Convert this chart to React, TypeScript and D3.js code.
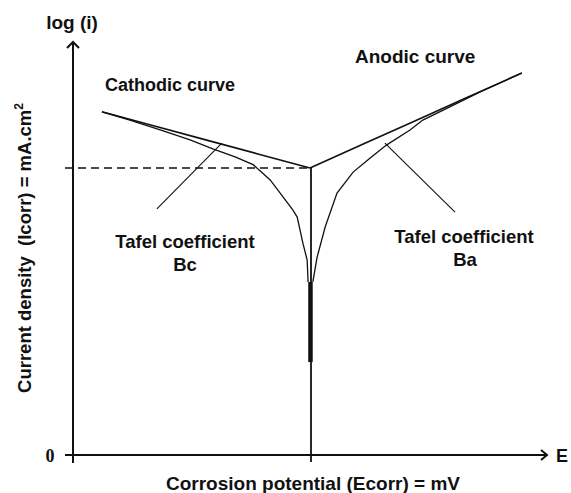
import React from "react";
import * as d3 from "d3";

// Potential E (mV, relative to Ecorr) and log(i) values
const E_CORR = 0;
const LOG_I_CORR = 6.95;

const cathodicE = [-439, -380, -316, -253, -205, -158, -120, -84, -57, -36, -27, -15, -6, -4];
const cathodicLogI = [8.31, 8.11, 7.87, 7.63, 7.41, 7.22, 7.03, 6.66, 6.25, 5.93, 5.76, 5.13, 4.72, 4.19];

const anodicE = [6, 15, 32, 57, 91, 127, 162, 211, 238, 295, 359, 447];
const anodicLogI = [4.19, 4.79, 5.52, 6.34, 6.85, 7.19, 7.51, 7.87, 8.11, 8.43, 8.79, 9.25];

const cathodicTafelE = [-439, -330, -220, -110, 0];
const cathodicTafelLogI = [8.31, 7.97, 7.63, 7.29, 6.95];

const anodicTafelE = [0, 110, 220, 330, 447];
const anodicTafelLogI = [6.95, 7.52, 8.08, 8.65, 9.25];

const spikeE = [1];
const spikeLogI = [4.19, 2.25];

const bcPointerE = [-186, -323];
const bcPointerLogI = [7.55, 5.96];
const baPointerE = [158, 306];
const baPointerLogI = [7.55, 5.88];

const zip = (xs: number[], ys: number[]) => xs.map((x, i) => [x, ys[i]] as [number, number]);

export default function App() {
  const W = 571;
  const H = 493;
  const x = d3.scaleLinear().domain([-500, 500]).range([73, 547]);
  const y = d3.scaleLinear().domain([0, 10]).range([455, 42]);
  const line = d3
    .line<[number, number]>()
    .x((d) => x(d[0]))
    .y((d) => y(d[1]));

  const font = "'Liberation Sans', Arial, Helvetica, sans-serif";
  const stroke = "#111";

  return (
    <svg
      width={W}
      height={H}
      style={{ position: "absolute", left: 0, top: 0, background: "#fff" }}
    >
      {/* axes */}
      <line x1={x(-500)} y1={463} x2={x(-500)} y2={y(10)} stroke={stroke} strokeWidth={2} />
      <polyline
        points={`${x(-500) - 6},${y(10) + 6} ${x(-500)},${y(10)} ${x(-500) + 6},${y(10) + 6}`}
        fill="none"
        stroke={stroke}
        strokeWidth={2}
      />
      <line x1={65} y1={y(0)} x2={x(500)} y2={y(0)} stroke={stroke} strokeWidth={2} />
      <polyline
        points={`${x(500) - 6},${y(0) - 5} ${x(500)},${y(0)} ${x(500) - 6},${y(0) + 5}`}
        fill="none"
        stroke={stroke}
        strokeWidth={2}
      />

      {/* Icorr dashed line */}
      <line
        x1={65}
        y1={y(LOG_I_CORR)}
        x2={x(E_CORR)}
        y2={y(LOG_I_CORR)}
        stroke={stroke}
        strokeWidth={1.5}
        strokeDasharray="8,5"
      />
      {/* Ecorr vertical */}
      <line
        x1={x(E_CORR) + 1}
        y1={y(LOG_I_CORR)}
        x2={x(E_CORR) + 1}
        y2={462}
        stroke={stroke}
        strokeWidth={1.8}
      />
      <line
        x1={x(spikeE[0])}
        y1={y(spikeLogI[0])}
        x2={x(spikeE[0])}
        y2={y(spikeLogI[1])}
        stroke={stroke}
        strokeWidth={4.5}
      />

      {/* curves */}
      <path d={line(zip(cathodicTafelE, cathodicTafelLogI)) || ""} fill="none" stroke={stroke} strokeWidth={1.6} />
      <path d={line(zip(anodicTafelE, anodicTafelLogI)) || ""} fill="none" stroke={stroke} strokeWidth={1.6} />
      <path d={line(zip(cathodicE, cathodicLogI)) || ""} fill="none" stroke={stroke} strokeWidth={1.3} />
      <path d={line(zip(anodicE, anodicLogI)) || ""} fill="none" stroke={stroke} strokeWidth={1.3} />

      {/* pointers */}
      <path d={line(zip(bcPointerE, bcPointerLogI)) || ""} fill="none" stroke={stroke} strokeWidth={1.1} />
      <path d={line(zip(baPointerE, baPointerLogI)) || ""} fill="none" stroke={stroke} strokeWidth={1.1} />

      {/* texts */}
      <g fontFamily={font} fontWeight="bold" fill="#111">
        <text x={72} y={29} fontSize={19} textAnchor="middle">log (i)</text>
        <text x={105} y={91} fontSize={18}>Cathodic curve</text>
        <text x={355} y={63} fontSize={19}>Anodic curve</text>
        <text x={185} y={248} fontSize={18.5} textAnchor="middle">Tafel coefficient</text>
        <text x={185} y={271} fontSize={18.5} textAnchor="middle">Bc</text>
        <text x={464} y={243} fontSize={18.5} textAnchor="middle">Tafel coefficient</text>
        <text x={465} y={266} fontSize={18.5} textAnchor="middle">Ba</text>
        <text x={313} y={490} fontSize={19} textAnchor="middle">Corrosion potential (Ecorr) = mV</text>
        <text x={556} y={462} fontSize={18}>E</text>
        <text
          transform={`translate(31,248) rotate(-90)`}
          fontSize={18.5}
          textAnchor="middle"
          xmlSpace="preserve"
        >
          Current density  (Icorr) = mA.cm<tspan fontSize={12} dy={-8}>2</tspan>
        </text>
      </g>
      <text x={50} y={462} fontSize={18} fontWeight="bold" fontFamily="'Liberation Serif', serif" textAnchor="middle" fill="#111">0</text>
    </svg>
  );
}
